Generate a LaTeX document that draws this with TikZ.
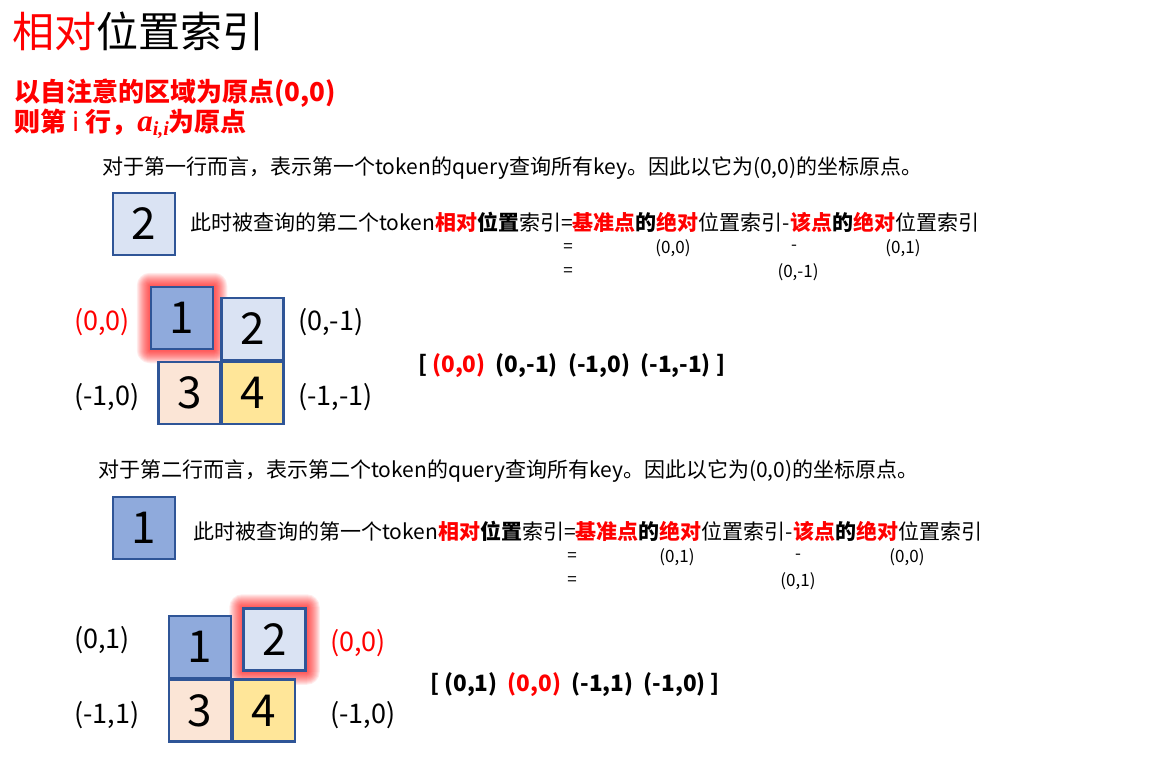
\documentclass[tikz,border=0pt]{standalone}
\usepackage{fontspec}
\setmainfont{Noto Sans CJK SC}
\newfontfamily\serifit{Liberation Serif}
\usetikzlibrary{positioning, calc, backgrounds}
\definecolor{boxline}{HTML}{2F5597}
\definecolor{tokA}{HTML}{8FAADC}
\definecolor{tokB}{HTML}{DAE3F3}
\definecolor{tokC}{HTML}{FBE5D6}
\definecolor{tokD}{HTML}{FFE699}
\newcommand{\hl}[1]{\textcolor{red}{\bfseries #1}}
\newcommand{\aii}{{\serifit\bfseries\itshape\fontsize{31}{31}\selectfont a\raisebox{-0.3ex}{\fontsize{20}{20}\selectfont i,i}}}

\begin{document}
\begin{tikzpicture}[x=1pt, y=-1pt,
  tok/.style={draw=boxline, line width=2.5pt, minimum width=62pt, minimum height=62pt, inner sep=0pt, font=\fontsize{44}{44}\selectfont},
  lbl/.style={anchor=west, inner sep=0pt, font=\fontsize{27}{27}\selectfont},
  body/.style={anchor=west, inner sep=0pt, font=\fontsize{21}{21}\selectfont},
  small/.style={inner sep=0pt, font=\fontsize{17}{17}\selectfont},
  list/.style={anchor=west, inner sep=0pt, font=\fontsize{22.5}{22.5}\selectfont\bfseries}]
\useasboundingbox (0,0) rectangle (1170,766);

% Heading
\node[anchor=west, inner sep=0pt, font=\fontsize{42}{42}\selectfont] (title) at (12,31) {\textcolor{red}{相对}位置索引};
\node[anchor=west, inner sep=0pt, font=\fontsize{26}{26}\selectfont\bfseries, text=red] (rule1) at (14,93) {以自注意的区域为原点(0,0)};
\node[anchor=west, inner sep=0pt, font=\fontsize{26}{26}\selectfont\bfseries, text=red] (rule2) at (14,124) {则第 {\mdseries i} 行，\aii 为原点};

% First row
\node[body] (rowA) at (102,168) {对于第一行而言，表示第一个token的query查询所有key。因此以它为(0,0)的坐标原点。};
\node[tok, fill=tokB] (keyA) at (144,224) {2};
\node[body] (eqA) at (190,222) {此时被查询的第二个token\hl{相对}{\bfseries 位置}索引=\hl{基准点}{\bfseries 的}\hl{绝对}位置索引-\hl{该点}{\bfseries 的}\hl{绝对}位置索引};
\node[small] (eqA1) at (568,248) {=};
\node[small] (eqA2) at (673,248) {(0,0)};
\node[small] (eqA3) at (794,248) {-};
\node[small] (eqA4) at (903,248) {(0,1)};
\node[small] (eqA5) at (568,272) {=};
\node[small] (eqA6) at (798,272) {(0,-1)};

% Grid for first row
\node[tok, fill=tokA] (a1) at (182,318) {1};
\node[tok, fill=tokB] (a2) at (252.5,329) {2};
\node[tok, fill=tokC] (a3) at (189.5,393) {3};
\node[tok, fill=tokD] (a4) at (252.5,393) {4};
\begin{scope}[on background layer]
\foreach \g in {1,...,13}
  \fill[red, opacity=0.075, rounded corners=\g pt] ($(a1.south west)+(-\g pt,-\g pt)$) rectangle ($(a1.north east)+(\g pt,\g pt)$);
\end{scope}
\node[lbl, text=red] (la1) at (74,322) {(0,0)};
\node[lbl] (la2) at (298,322) {(0,-1)};
\node[lbl] (la3) at (74,397) {(-1,0)};
\node[lbl] (la4) at (298,397) {(-1,-1)};
\node[list] (listA) at (418,366) {[ \textcolor{red}{(0,0)}\ \ (0,-1)\ \ (-1,0)\ \ (-1,-1) ]};

% Second row
\node[body] (rowB) at (98,471) {对于第二行而言，表示第二个token的query查询所有key。因此以它为(0,0)的坐标原点。};
\node[tok, fill=tokA] (keyB) at (144,528) {1};
\node[body] (eqB) at (193,531) {此时被查询的第一个token\hl{相对}{\bfseries 位置}索引=\hl{基准点}{\bfseries 的}\hl{绝对}位置索引-\hl{该点}{\bfseries 的}\hl{绝对}位置索引};
\node[small] (eqB1) at (572,557) {=};
\node[small] (eqB2) at (677,557) {(0,1)};
\node[small] (eqB3) at (798,557) {-};
\node[small] (eqB4) at (907,557) {(0,0)};
\node[small] (eqB5) at (572,581) {=};
\node[small] (eqB6) at (798,581) {(0,1)};

% Grid for second row
\node[tok, fill=tokA] (b1) at (200,647) {1};
\node[tok, fill=tokB] (b2) at (274.5,639.5) {2};
\node[tok, fill=tokC] (b3) at (200,710.5) {3};
\node[tok, fill=tokD] (b4) at (264,710.5) {4};
\begin{scope}[on background layer]
\foreach \g in {1,...,13}
  \fill[red, opacity=0.075, rounded corners=\g pt] ($(b2.south west)+(-\g pt,-\g pt)$) rectangle ($(b2.north east)+(\g pt,\g pt)$);
\end{scope}
\node[lbl] (lb1) at (74,640) {(0,1)};
\node[lbl, text=red] (lb2) at (330,643) {(0,0)};
\node[lbl] (lb3) at (74,715) {(-1,1)};
\node[lbl] (lb4) at (330,715) {(-1,0)};
\node[list] (listB) at (430,685) {[ (0,1)\ \ \textcolor{red}{(0,0)}\ \ (-1,1)\ \ (-1,0) ]};
\end{tikzpicture}
\end{document}
